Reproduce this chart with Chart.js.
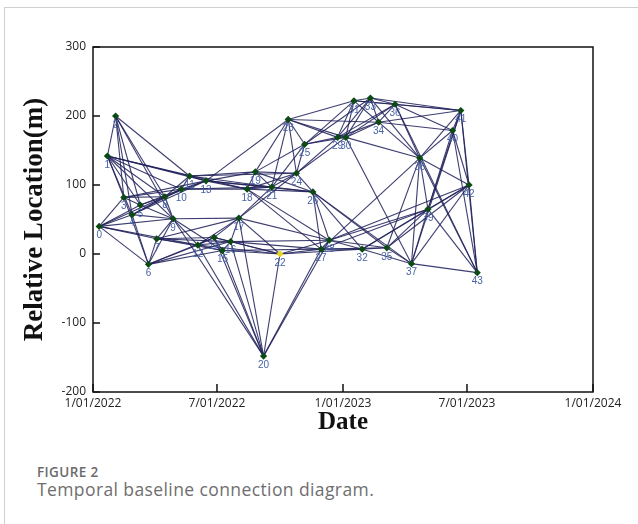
<!DOCTYPE html>
<html>
<head>
<meta charset="utf-8">
<title>Temporal baseline connection diagram</title>
<script src="https://cdn.jsdelivr.net/npm/chart.js"></script>
<style>
    html, body { margin: 0; padding: 0; background: #fff; }
    body { width: 638px; height: 524px; position: relative; overflow: hidden; font-family: "Open Sans", sans-serif; }
    .frame { position: absolute; left: 4px; top: 7px; right: 0; bottom: 0; border-left: 1px solid #cfcfcf; border-top: 1px solid #cfcfcf; }
    .chart-box { position: absolute; left: 0; top: 0; width: 638px; height: 440px; }
    .fig-no { position: absolute; left: 37px; top: 463px; font-size: 13.5px; font-weight: 600; letter-spacing: 0.4px; color: #6b6b6b; }
    .fig-caption { position: absolute; left: 37px; top: 477px; font-size: 17.5px; letter-spacing: 0.4px; color: #6e6e6e; }
</style>
</head>
<body>
<div class="frame"></div>
<div class="chart-box"><canvas id="baselineChart"></canvas></div>
<div class="fig-no">FIGURE 2</div>
<div class="fig-caption">Temporal baseline connection diagram.</div>

<script>
// ─────────────────────────────────────────────────────────────────────────────
//  Temporal baseline connection diagram (SBAS interferogram network)
//  Nodes = acquisitions (date, perpendicular baseline), lines = interferometric pairs.
// ─────────────────────────────────────────────────────────────────────────────

// acquisition dates, numbered 0..43 in this order
const acquisitionDates = [
    '2022-01-10', '2022-01-22', '2022-02-03', '2022-02-15', '2022-02-27',
    '2022-03-11', '2022-03-23', '2022-04-04', '2022-04-16', '2022-04-28',
    '2022-05-10', '2022-05-22', '2022-06-03', '2022-06-15', '2022-06-27',
    '2022-07-09', '2022-07-21', '2022-08-02', '2022-08-14', '2022-08-26',
    '2022-09-07', '2022-09-19', '2022-10-01', '2022-10-13', '2022-10-25',
    '2022-11-06', '2022-11-18', '2022-11-30', '2022-12-12', '2022-12-24',
    '2023-01-05', '2023-01-17', '2023-01-29', '2023-02-10', '2023-02-22',
    '2023-03-06', '2023-03-18', '2023-04-11', '2023-04-23', '2023-05-05',
    '2023-06-10', '2023-06-22', '2023-07-04', '2023-07-16'
];

// relative location (perpendicular baseline, m) of each acquisition
const relativeLocation = [
    40, 142, 200, 82, 57, 71, -15, 22, 83, 51,
    94, 113, 13, 106, 24, 5, 18, 52, 94, 119,
    -148, 97, 0, 195, 117, 159, 90, 7, 20, 169,
    169, 222, 7, 226, 191, 9, 217, -14, 139, 65,
    179, 208, 100, -27
];

// super master image (drawn yellow)
const referenceIndex = 22;

// interferometric pairs [i, j]
const baselinePairs = [
    [0, 3], [0, 4], [0, 5], [0, 6], [0, 7], [0, 8], [0, 9], [0, 12],
    [1, 2], [1, 3], [1, 4], [1, 5], [1, 8], [1, 9], [1, 10], [1, 11], [1, 13], [1, 18],
    [2, 3], [2, 4], [2, 5], [2, 8], [2, 9], [2, 11],
    [3, 5], [3, 6], [3, 8], [3, 10], [3, 13],
    [4, 6], [4, 8], [4, 9], [4, 10], [4, 13],
    [5, 8], [5, 9], [5, 10],
    [6, 7], [6, 9], [6, 12], [6, 14], [6, 15], [6, 16],
    [7, 9], [7, 12], [7, 14], [7, 15], [7, 16], [7, 17],
    [8, 9], [8, 10], [8, 11], [8, 13],
    [9, 12], [9, 15], [9, 17], [9, 20],
    [10, 11], [10, 13], [10, 18], [10, 21],
    [11, 13], [11, 19], [11, 21], [11, 24],
    [12, 14], [12, 15], [12, 16], [12, 17], [12, 20], [12, 22],
    [13, 18], [13, 19], [13, 21], [13, 23], [13, 26],
    [14, 15], [14, 16], [14, 17], [14, 20], [14, 22],
    [15, 16], [15, 20], [15, 22], [15, 27],
    [16, 17], [16, 20], [16, 22], [16, 27], [16, 28],
    [17, 20], [17, 21], [17, 22], [17, 24], [17, 28],
    [18, 19], [18, 21], [18, 24], [18, 26], [18, 27], [18, 28],
    [19, 21], [19, 23], [19, 24], [19, 25], [19, 26],
    [20, 22], [20, 27], [20, 28],
    [21, 23], [21, 24], [21, 25], [21, 26],
    [22, 27], [22, 28], [22, 32],
    [23, 24], [23, 25], [23, 29], [23, 30], [23, 31], [23, 34],
    [24, 25], [24, 26], [24, 29], [24, 30],
    [25, 29], [25, 30], [25, 31], [25, 33],
    [26, 27], [26, 28], [26, 32], [26, 35], [26, 37],
    [27, 28], [27, 32], [27, 35], [27, 38], [27, 39],
    [28, 32], [28, 35], [28, 39], [28, 42],
    [29, 30], [29, 31], [29, 33], [29, 34], [29, 36],
    [30, 31], [30, 33], [30, 34], [30, 36], [30, 37], [30, 38],
    [31, 33], [31, 34], [31, 36], [31, 41],
    [32, 35], [32, 37], [32, 39], [32, 42],
    [33, 34], [33, 36], [33, 38], [33, 41],
    [34, 36], [34, 38], [34, 40], [34, 41],
    [35, 37], [35, 38], [35, 39], [35, 42],
    [36, 38], [36, 40], [36, 41], [36, 43],
    [37, 38], [37, 39], [37, 41], [37, 42], [37, 43],
    [38, 39], [38, 40], [38, 41], [38, 42], [38, 43],
    [39, 40], [39, 41], [39, 42], [39, 43],
    [40, 41], [40, 42], [40, 43],
    [41, 42], [41, 43],
    [42, 43]
];

// x axis
const axisStartDate = '2022-01-01';
const axisEndDate = '2024-01-01';
const dateTicks = ['2022-01-01', '2022-07-01', '2023-01-01', '2023-07-01', '2024-01-01'];
const dateTickLabels = ['1/01/2022', '7/01/2022', '1/01/2023', '7/01/2023', '1/01/2024'];

// y axis
const yMin = -200;
const yMax = 300;
const yStep = 100;

// ─────────────────────────────────────────────────────────────────────────────

const DAY = 86400000;
const toDays = (s) => (Date.parse(s + 'T00:00:00Z') - Date.parse(axisStartDate + 'T00:00:00Z')) / DAY;

const tickDays = dateTicks.map(toDays);
const nodes = acquisitionDates.map((d, i) => ({ x: toDays(d), y: relativeLocation[i] }));

const LINE_COLOR = 'rgba(34, 34, 92, 0.88)';
const NODE_COLOR = '#0c4a14';
const REF_COLOR = '#e8d51e';
const LABEL_COLOR = '#4863a6';

const edgeSets = baselinePairs.map(([a, b]) => ({
    data: [nodes[a], nodes[b]],
    showLine: true,
    borderColor: LINE_COLOR,
    borderWidth: 1.1,
    pointRadius: 0,
    pointHoverRadius: 0,
    order: 2
}));

const nodeSet = {
    data: nodes,
    showLine: false,
    pointStyle: 'rectRot',
    pointRadius: 3.6,
    pointBorderWidth: 0,
    pointBackgroundColor: nodes.map((_, i) => (i === referenceIndex ? REF_COLOR : NODE_COLOR)),
    order: 0
};

// little number under every node
const nodeLabels = {
    id: 'nodeLabels',
    afterDatasetsDraw(chart) {
        const meta = chart.getDatasetMeta(chart.data.datasets.length - 1);
        const ctx = chart.ctx;
        ctx.save();
        ctx.font = '10px "Liberation Sans", sans-serif';
        ctx.fillStyle = LABEL_COLOR;
        ctx.textAlign = 'center';
        ctx.textBaseline = 'top';
        meta.data.forEach((pt, i) => ctx.fillText(String(i), pt.x, pt.y + 4));
        ctx.restore();
    }
};

// closed box with inward ticks
const boxFrame = {
    id: 'boxFrame',
    afterDraw(chart) {
        const { ctx, chartArea: a, scales } = chart;
        ctx.save();
        ctx.strokeStyle = '#111';
        ctx.lineWidth = 1.5;
        ctx.strokeRect(a.left, a.top, a.right - a.left, a.bottom - a.top);
        ctx.beginPath();
        scales.x.ticks.forEach((t) => {
            const px = scales.x.getPixelForValue(t.value);
            ctx.moveTo(px, a.bottom);
            ctx.lineTo(px, a.bottom - 8);
        });
        scales.y.ticks.forEach((t) => {
            const py = scales.y.getPixelForValue(t.value);
            ctx.moveTo(a.left, py);
            ctx.lineTo(a.left + 7, py);
        });
        ctx.stroke();
        ctx.restore();
    }
};

new Chart(document.getElementById('baselineChart'), {
    type: 'scatter',
    data: { datasets: [...edgeSets, nodeSet] },
    options: {
        responsive: true,
        maintainAspectRatio: false,
        animation: false,
        events: [],
        layout: { padding: { left: 0, right: 45, top: 47, bottom: 0 } },
        scales: {
            x: {
                type: 'linear',
                min: 0,
                max: toDays(axisEndDate),
                grid: { display: false, drawTicks: false },
                border: { display: false },
                afterBuildTicks: (scale) => { scale.ticks = tickDays.map((v) => ({ value: v })); },
                afterFit: (scale) => { scale.height = 48; },
                ticks: {
                    autoSkip: false,
                    maxRotation: 0,
                    padding: 4,
                    color: '#222',
                    font: { family: '"Open Sans", sans-serif', size: 12 },
                    callback: (v) => dateTickLabels[tickDays.indexOf(v)]
                },
                title: {
                    display: true,
                    text: 'Date',
                    color: '#111',
                    font: { family: '"Liberation Serif", serif', size: 25, weight: 'bold' },
                    padding: { top: 0, bottom: 2 }
                }
            },
            y: {
                min: yMin,
                max: yMax,
                grid: { display: false, drawTicks: false },
                border: { display: false },
                afterFit: (scale) => { scale.width = 93; },
                ticks: {
                    stepSize: yStep,
                    padding: 7,
                    color: '#222',
                    font: { family: '"Open Sans", sans-serif', size: 12 }
                },
                title: {
                    display: true,
                    text: 'Relative Location(m)',
                    color: '#111',
                    font: { family: '"Liberation Serif", serif', size: 27, weight: 'bold' },
                    padding: { top: 19, bottom: 0 }
                }
            }
        },
        plugins: {
            legend: { display: false },
            tooltip: { enabled: false }
        }
    },
    plugins: [nodeLabels, boxFrame]
});
</script>
</body>
</html>
